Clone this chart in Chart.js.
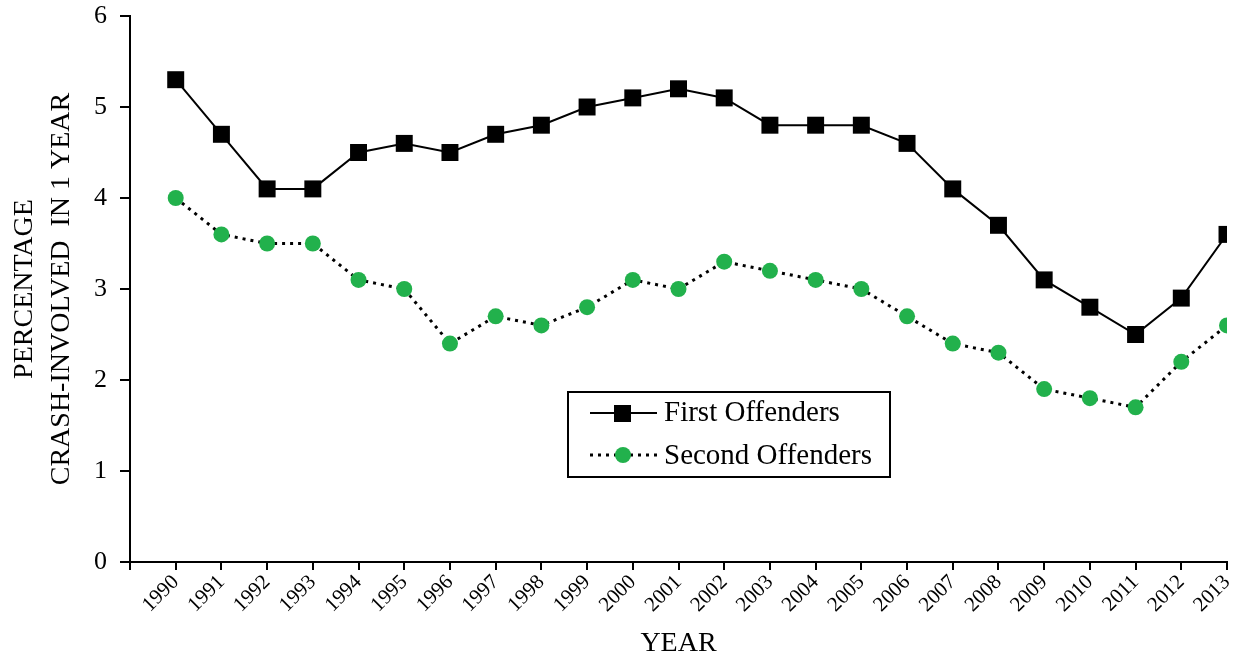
<!DOCTYPE html>
<html>
<head>
<meta charset="utf-8">
<script src="https://cdn.jsdelivr.net/npm/chart.js@4/dist/chart.umd.min.js"></script>
<style>
  html, body { margin: 0; padding: 0; background: #fff; }
  #wrap { width: 1239px; height: 656px; position: relative; }
</style>
</head>
<body>
<div id="wrap"><canvas id="tracker"></canvas></div>
<script>
const years = [1990, 1991, 1992, 1993, 1994, 1995, 1996, 1997, 1998, 1999, 2000, 2001,
               2002, 2003, 2004, 2005, 2006, 2007, 2008, 2009, 2010, 2011, 2012, 2013];
const firstOffenders = [5.3, 4.7, 4.1, 4.1, 4.5, 4.6, 4.5, 4.7, 4.8, 5.0, 5.1, 5.2,
                        5.1, 4.8, 4.8, 4.8, 4.6, 4.1, 3.7, 3.1, 2.8, 2.5, 2.9, 3.6];
const secondOffenders = [4.0, 3.6, 3.5, 3.5, 3.1, 3.0, 2.4, 2.7, 2.6, 2.8, 3.1, 3.0,
                         3.3, 3.2, 3.1, 3.0, 2.7, 2.4, 2.3, 1.9, 1.8, 1.7, 2.2, 2.6];
const yTicks = [0, 1, 2, 3, 4, 5, 6];

const serif = '"Liberation Serif", "Times New Roman", serif';
const green = '#22b14c';

// legend drawn inside the plot, like the original figure
const boxLegend = {
    id: 'boxLegend',
    afterDraw: (chart) => {
        const ctx = chart.ctx;
        ctx.save();
        ctx.strokeStyle = '#000';
        ctx.lineWidth = 2;
        ctx.strokeRect(568, 392, 322, 85);

        // first offenders row
        ctx.beginPath();
        ctx.moveTo(590, 413);
        ctx.lineTo(657, 413);
        ctx.stroke();
        ctx.fillStyle = '#000';
        ctx.fillRect(614, 405, 17, 17);

        // second offenders row
        ctx.setLineDash([3, 5]);
        ctx.lineWidth = 3;
        ctx.beginPath();
        ctx.moveTo(590, 455);
        ctx.lineTo(657, 455);
        ctx.stroke();
        ctx.setLineDash([]);
        ctx.fillStyle = green;
        ctx.beginPath();
        ctx.arc(623, 455, 8, 0, Math.PI * 2);
        ctx.fill();

        ctx.fillStyle = '#000';
        ctx.font = '29px ' + serif;
        ctx.textBaseline = 'middle';
        ctx.fillText('First Offenders', 664, 413);
        ctx.fillText('Second Offenders', 664, 456);
        ctx.restore();
    }
};

const data = {
    datasets: [{
        label: 'First Offenders',
        data: years.map((y, i) => ({ x: y, y: firstOffenders[i] })),
        borderColor: '#000',
        backgroundColor: '#000',
        borderWidth: 2,
        pointStyle: 'rect',
        pointRadius: 12,
        pointBorderWidth: 0,
        tension: 0,
    },
    {
        label: 'Second Offenders',
        data: years.map((y, i) => ({ x: y, y: secondOffenders[i] })),
        borderColor: '#000',
        backgroundColor: green,
        borderWidth: 3,
        borderDash: [3, 5],
        pointStyle: 'circle',
        pointRadius: 8,
        pointBorderWidth: 0,
        tension: 0,
    }]
};

const config = {
    type: 'line',
    data: data,
    options: {
        responsive: true,
        maintainAspectRatio: false,
        animation: false,
        layout: { padding: { top: 16, right: 10, left: 0, bottom: 0 } },
        plugins: {
            legend: { display: false },
            tooltip: { enabled: false }
        },
        scales: {
            x: {
                type: 'linear',
                min: 1989,
                max: 2013,
                afterFit: (scale) => {
                    scale.height = 94;
                    scale.paddingLeft = 0;
                    scale.paddingRight = 0;
                },
                afterBuildTicks: (scale) => {
                    scale.ticks = [1989, ...years].map(v => ({ value: v }));
                },
                ticks: {
                    autoSkip: false,
                    maxRotation: 45,
                    minRotation: 45,
                    padding: 0,
                    color: '#000',
                    font: { family: serif, size: 21 },
                    callback: (v) => v === 1989 ? '' : String(v)
                },
                grid: {
                    drawOnChartArea: false,
                    drawTicks: true,
                    tickLength: 8,
                    color: '#000',
                    lineWidth: 2
                },
                border: { display: true, color: '#000', width: 2 },
                title: {
                    display: true,
                    text: 'YEAR',
                    color: '#000',
                    font: { family: serif, size: 28, lineHeight: 0.9 },
                    padding: { top: 0, bottom: 0 }
                }
            },
            y: {
                min: 0,
                max: 6,
                afterFit: (scale) => {
                    scale.width = 130;
                    scale.paddingTop = 0;
                    scale.paddingBottom = 0;
                },
                afterBuildTicks: (scale) => {
                    scale.ticks = yTicks.map(v => ({ value: v }));
                },
                ticks: {
                    padding: 13,
                    color: '#000',
                    font: { family: serif, size: 26 }
                },
                grid: {
                    drawOnChartArea: false,
                    drawTicks: true,
                    tickLength: 10,
                    color: '#000',
                    lineWidth: 2
                },
                border: { display: true, color: '#000', width: 2 },
                title: {
                    display: true,
                    text: ['PERCENTAGE', 'CRASH-INVOLVED  IN 1 YEAR'],
                    color: '#000',
                    font: { family: serif, size: 28, lineHeight: 1.32 },
                    padding: { top: 6, bottom: 0 }
                }
            }
        }
    },
    plugins: [boxLegend]
};

const chart = new Chart(document.getElementById('tracker'), config);
</script>
</body>
</html>
